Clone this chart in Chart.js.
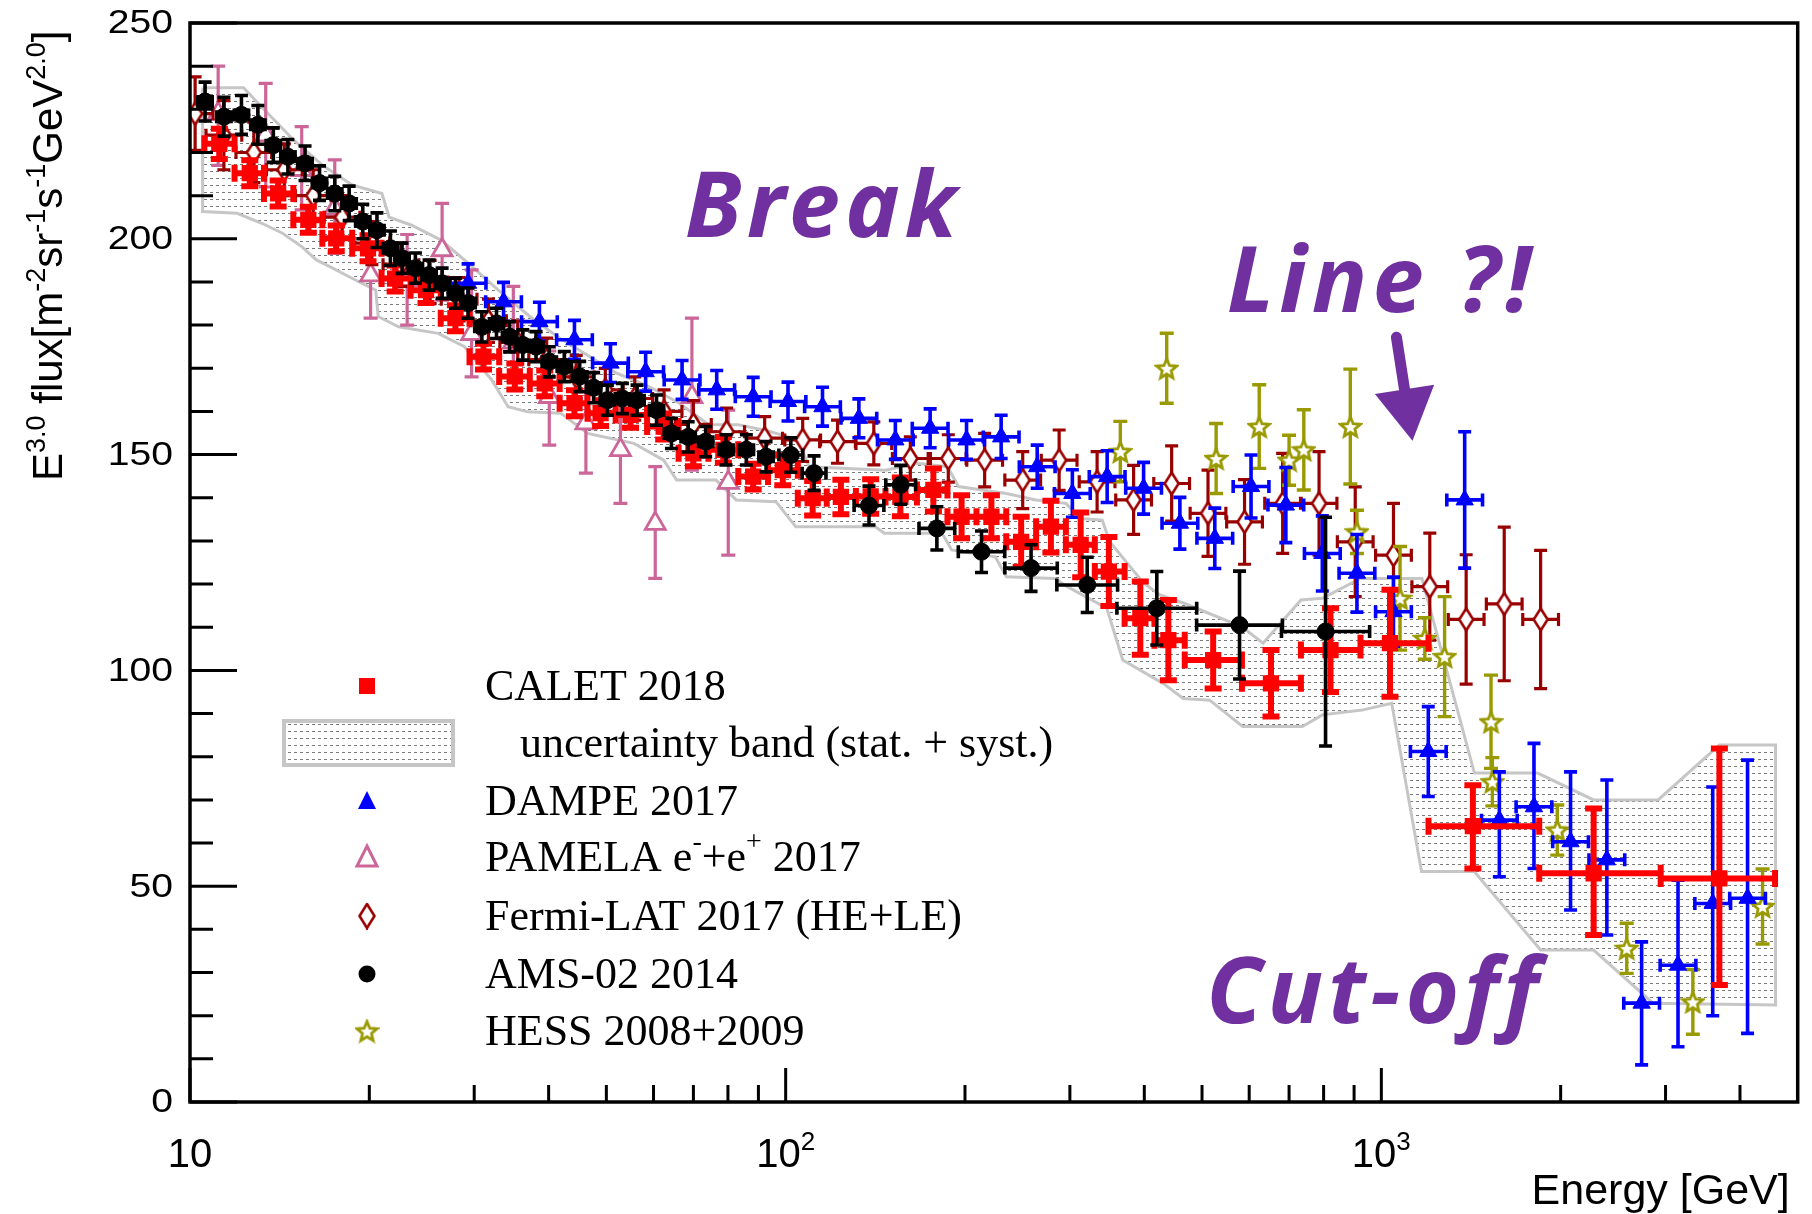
<!DOCTYPE html>
<html>
<head>
<meta charset="utf-8">
<script src="https://cdn.jsdelivr.net/npm/chart.js@4.4.1/dist/chart.umd.min.js"></script>
<style>
  html, body { margin: 0; background: #fff; }
  canvas { display: block; }
</style>
</head>
<body>
<canvas id="spectrum" width="1812" height="1214"></canvas>
<script>
// ---- axis ticks ----
const xMajorTicks = [10, 100, 1000];
const xMinorTicks = [20, 30, 40, 50, 60, 70, 80, 90, 200, 300, 400, 500, 600, 700, 800, 900, 2000, 3000, 4000];
const xTickLabels = [['10', ''], ['10', '2'], ['10', '3']];
const yMajorTicks = [0, 50, 100, 150, 200, 250];
const yMinorTicks = [10, 20, 30, 40, 60, 70, 80, 90, 110, 120, 130, 140, 160, 170, 180, 190, 210, 220, 230, 240];

// ---- CALET 2018 ----
const calE = [11.2, 12.6, 14.06, 15.8, 17.6, 19.9, 22.1, 24.9, 27.9, 31.1, 35.1, 39.4, 44.2, 48.9, 54.9, 62.4, 70.0, 78.6, 88.2, 98.9,
  111, 123.8, 138.9, 155.8, 177, 197.4, 221.5, 248.5, 278.8, 312.8, 348.8, 393.9, 439, 522, 652.7, 821.6, 1034, 1424.5, 2272, 3694];
const calFlux = [222, 215.2, 210.5, 204.4, 200.1, 197.8, 190.8, 188.1, 181.6, 172.7, 168.1, 166.5, 161.9, 159.6, 159.2, 156.5, 150.3, 151.1, 144.9, 146.4,
  139.9, 140.2, 140.3, 140.2, 141.8, 135.6, 135.6, 129.8, 133.3, 129.1, 122.9, 112.1, 107.0, 102.4, 97.0, 104.7, 106.3, 63.9, 53.0, 51.8];
const calErrLo = [3.5, 3, 3, 3, 3, 3, 3, 3, 3, 3, 3, 3, 3, 3, 3, 3, 3, 3, 3, 3.5,
  4, 4, 4, 4.5, 5, 5, 5, 5.8, 6, 7.5, 8, 8.5, 9.3, 6.6, 7.7, 9.7, 12.4, 9.8, 14.3, 24.7];
const calErrHi = [3.5, 3, 3, 3, 3, 3, 3, 3, 3, 3, 3, 3, 3, 3, 3, 3, 3, 3, 3, 3.5,
  4, 4, 4, 4.5, 5, 5, 5, 5.8, 6, 7.5, 8, 8.5, 9.3, 6.6, 7.7, 9.7, 12.4, 9.5, 15, 30.1];
const calEdges = [10.57, 11.88, 13.31, 14.91, 16.68, 18.72, 20.97, 23.46, 26.36, 29.46, 33.04, 37.19, 41.74, 46.49, 51.83, 58.53, 66.11, 74.18, 83.26, 93.41,
  104.8, 117.2, 131.2, 147.1, 166.1, 186.9, 209.1, 234.6, 263.3, 295.4, 330.4, 370.7, 415.9, 467.7, 583.4, 732.8, 922.6, 1200, 1841, 2944, 4581];

// CALET uncertainty band (stat. + syst.), upper and lower edges
const bandUpperE = [10.5, 12.3, 13.3, 14.9, 16.7, 18.7, 21.0, 21.6, 23.5, 26.4, 29.5, 33.0, 37.2, 41.7, 46.5, 51.8, 58.5, 66.1, 74.2, 83.3,
  93.4, 104.8, 109.5, 147.1, 166.1, 186.9, 195, 234.6, 263.3, 295.4, 313, 340, 350, 399, 425, 467.7, 583.4, 633, 732.8, 796,
  922.6, 1170, 1433, 1830, 2272, 2915, 3694, 4590];
const bandUpperV = [235, 235, 230, 223, 217, 212.5, 210.5, 205, 203.2, 199.7, 194, 188, 182, 177, 173, 169, 166, 162, 157, 156.9,
  155.5, 153.4, 147.2, 146.4, 148, 147.2, 142.6, 141, 139.5, 138.7, 135.2, 134.8, 129.8, 120.2, 117.5, 115.5, 110.1, 106.3, 116.3, 116.7,
  121.3, 121.3, 76.2, 76.2, 70, 70, 82.7, 82.7];
const bandLowerE = [10.5, 12.0, 13.2, 14.3, 15.4, 16.3, 17.2, 18.5, 20.5, 20.7, 22.4, 26.1, 28.9, 32.1, 34.2, 36.9, 41.9, 46.5, 55.6, 62.4,
  65.6, 76.4, 82.6, 96.3, 104, 141.5, 146.4, 183, 190, 224.8, 234.7, 283, 297, 346, 368, 430, 465, 515, 585, 737,
  796, 928, 1041, 1168, 1432, 1851, 2272, 2858, 4590];
const bandLowerV = [206.3, 205.9, 203.6, 201.3, 198.2, 195.1, 193.5, 191.2, 188.1, 182, 179.6, 178.1, 175.0, 167.3, 161.1, 159.9, 159.6, 154.9, 152.6, 148.7,
  144.1, 144.1, 139.5, 139.1, 133.3, 133.3, 131.8, 131.8, 127.9, 126.3, 121.7, 121.3, 119.4, 114.4, 102.4, 97.0, 93.5, 93.1, 87.0, 87.0,
  89.7, 90.8, 92.4, 53.4, 53.4, 35.2, 35.2, 22.9, 22.5];

// ---- DAMPE 2017 ----
const dampeE = [29.3, 33.6, 38.6, 44.2, 50.8, 58.2, 67.0, 76.6, 88.2, 100.9, 115.3, 132.7, 152.8, 174.8, 201.2, 230, 264.4, 302.9, 346.5, 398.9,
  459, 525.3, 604.3, 691.3, 796, 910, 1048, 1199, 1380, 1578, 1804, 2078, 2391, 2735, 3148, 3600, 4119];
const dampeFlux = [189.7, 185.4, 180.8, 176.6, 171.2, 169.2, 167.3, 165.0, 163.4, 162.3, 161.1, 158.4, 153.4, 156.1, 153.4, 154.1, 147.2, 141.0, 144.9, 142.2,
  134.1, 130.6, 142.6, 138.3, 127.1, 122.5, 113.6, 81.2, 139.5, 65.3, 68.4, 60.3, 56.1, 22.9, 31.7, 46.0, 47.2];
const dampeErrLo = [4.5, 4.5, 4.5, 4.5, 4.5, 4.5, 4.5, 4.5, 4.5, 4.5, 4.5, 4.5, 4.5, 4.5, 4.5, 5, 5, 5.5, 6, 6,
  6, 7, 7.3, 8.7, 8.7, 9, 8, 10.4, 15.8, 13.1, 14.3, 15.8, 17.4, 14.3, 18.9, 26, 31.3];
const dampeErrHi = [4.5, 4.5, 4.5, 4.5, 4.5, 4.5, 4.5, 4.5, 4.5, 4.5, 4.5, 4.5, 4.5, 4.5, 4.5, 5, 5, 5.5, 6, 6,
  6, 7, 7.3, 8.7, 8.7, 9, 8, 10.4, 15.8, 11.2, 14.7, 16.2, 18.5, 14.2, 19.7, 27, 32];
const dampeBinHalf = 0.03; // half bin width, decades

// ---- PAMELA e-+e+ 2017 ----
const pamE = [11.15, 13.4, 15.4, 17.5, 20.1, 23.15, 26.5, 29.7, 34.9, 40.1, 46.2, 52.8, 60.4, 69.6, 80.1];
const pamFlux = [229, 224, 216, 207, 191.6, 190.5, 197.4, 178, 176, 163.4, 157.3, 151.1, 134, 163.4, 143.5];
const pamErrLo = [12, 12, 9.3, 10.4, 10, 10.5, 11.6, 10, 9, 11.2, 11.6, 12.4, 12.7, 17, 16.8];
const pamErrHi = [11, 12, 10, 11.3, 6.6, 10.5, 10.8, 14.8, 13, 10.6, 9.7, 11.9, 13.2, 18.2, 16.8];

// ---- Fermi-LAT 2017 (HE+LE) ----
const fermiE = [10.2, 11.4, 12.8, 14.4, 16.1, 18.0, 20.2, 22.6, 25.3, 28.3, 31.7, 35.5, 39.7, 44.5, 49.8, 55.8, 62.5, 70.0, 79.6, 92.2,
  106.8, 122.2, 140.6, 161.9, 187.5, 215.8, 250, 287.8, 333.3, 383.8, 444.6, 511.7, 589.3, 682.8, 786, 904, 1048, 1206, 1388, 1608, 1851];
const fermiFlux = [229, 224, 220, 216, 210, 205, 199, 194, 190, 186, 181, 176, 172, 168, 165, 163, 160, 157, 155.3, 153.8,
  153.4, 153.0, 152.6, 149.1, 149.1, 148.7, 144.1, 148.7, 143.7, 139.5, 143.3, 136.4, 134.4, 138.7, 138.7, 129.8, 126.7, 119.4, 111.8, 115.4, 111.8];
const fermiErr = [8.5, 8, 7, 6, 6, 5, 5, 5, 5, 5, 5, 5, 5, 5, 5, 5, 5, 5.5, 5.5, 5,
  5, 5, 5, 5, 5.5, 6.2, 6.6, 7, 7, 8, 8.7, 10, 9.8, 11.6, 12, 12.7, 12, 12.4, 15, 17.8, 16];
const fermiBinHalf = 0.03;

// ---- AMS-02 2014 ----
const amsE = [10.6, 11.4, 12.2, 13.0, 13.8, 14.6, 15.6, 16.5, 17.5, 18.5, 19.5, 20.6, 21.7, 22.7, 23.9, 25.2, 26.5, 27.9, 29.3, 30.9,
  32.7, 34.4, 36.2, 38.1, 40.1, 42.5, 45.1, 47.6, 50.2, 53.2, 56.3, 60.7, 64.3, 68.6, 73.4, 79.4, 85.9, 92.7, 102, 111.6,
  138, 156, 179.4, 213.2, 258.2, 320.8, 419.8, 578, 806];
const amsFlux = [231.8, 228.3, 228.7, 226.4, 221.7, 219.0, 217.5, 212.9, 210.5, 208.2, 204.0, 202.0, 197.8, 195.5, 193.2, 191.6, 189.7, 187.4, 185.1, 179.6,
  180.4, 177.3, 175.4, 175.0, 171.5, 170.4, 168.1, 165.5, 162.6, 163.0, 162.6, 160.3, 154.9, 154.1, 153.0, 151.1, 151.1, 149.5, 149.9, 145.7,
  138.2, 143, 132.9, 127.5, 123.7, 119.8, 114.4, 110.5, 109.0];
const amsErr = [4.5, 4.5, 4.5, 4.5, 4, 4, 4, 4, 4, 4, 4, 4, 4, 3.5, 3.5, 3.5, 3.5, 3.5, 3.5, 3.5,
  3.5, 3.5, 3.5, 3.5, 3.5, 3.5, 3.5, 3.5, 3.5, 3.5, 3.5, 3.5, 3.5, 3.5, 3.5, 3.5, 3.5, 3.5, 4, 4,
  4.5, 4.5, 5, 4.8, 5.4, 6.4, 8.5, 12.5, 26.5];
const amsBinHalf = [0.012, 0.012, 0.012, 0.012, 0.012, 0.012, 0.012, 0.012, 0.012, 0.012, 0.012, 0.012, 0.012, 0.012, 0.012, 0.012, 0.012, 0.012, 0.012, 0.012,
  0.012, 0.012, 0.012, 0.012, 0.012, 0.012, 0.012, 0.012, 0.012, 0.012, 0.012, 0.012, 0.012, 0.012, 0.012, 0.012, 0.012, 0.012, 0.02, 0.02,
  0.025, 0.025, 0.03, 0.039, 0.044, 0.051, 0.067, 0.072, 0.074];

// ---- HESS 2008+2009 ----
const hessE = [364.6, 436.2, 528, 623.7, 700, 741, 887, 910, 1075, 1183, 1277, 1528, 1536, 1974, 2582, 3334, 4365];
const hessFlux = [150.7, 170.0, 149.1, 156.5, 148.7, 151.1, 156.5, 132.1, 116.7, 107.4, 103.2, 88.1, 74.2, 63.0, 35.6, 23.2, 45.3];
const hessErr = [7, 8.1, 8.1, 9.7, 5.8, 9.3, 13.3, 5, 12, 4.8, 13.9, 10.8, 5.6, 5.8, 5.8, 7.5, 8.7];

// hand-written notes, anchored in data coordinates (energy, flux)
const notes = [
  { text: 'Break', e: 67.7, f: 200.4 },
  { text: 'Line ?!', e: 550, f: 183 },
  { text: 'Cut-off', e: 508, f: 18.3 }
];
const arrowFrom = { e: 1060, f: 177.2 };
const arrowTo = { e: 1128, f: 153.2 };

const COLORS = {
  calet: '#ff0000', dampe: '#0000ff', pamela: '#cc6699',
  fermi: '#990000', ams: '#000000', hess: '#999900', note: '#7030a0'
};

const canvas = document.getElementById('spectrum');
const ctx0 = canvas.getContext('2d');

const pts = (xs, ys) => xs.map((x, i) => ({ x, y: ys[i] }));
const widen = (xs, half, sign) => xs.map((x, i) => x * Math.pow(10, sign * (Array.isArray(half) ? half[i] : half)));

function markerCanvas(w, h, paint) {
  const c = document.createElement('canvas');
  c.width = w; c.height = h;
  paint(c.getContext('2d'), w, h);
  return c;
}

// narrow open diamond (Fermi)
function diamondMarker(w, h) {
  return markerCanvas(w, h, (g) => {
    g.strokeStyle = COLORS.fermi; g.lineWidth = 2.6; g.fillStyle = '#fff';
    g.beginPath();
    g.moveTo(w / 2, 1.5); g.lineTo(w - 1.5, h / 2); g.lineTo(w / 2, h - 1.5); g.lineTo(1.5, h / 2);
    g.closePath(); g.fill(); g.stroke();
  });
}

// open five-point star (HESS)
function starMarker(size) {
  return markerCanvas(size, size, (g) => {
    const c = size / 2, ro = size / 2 - 2, ri = ro * 0.45;
    g.strokeStyle = COLORS.hess; g.lineWidth = 2.8; g.fillStyle = '#fff';
    g.beginPath();
    for (let k = 0; k < 10; k++) {
      const r = k % 2 ? ri : ro;
      const a = -Math.PI / 2 + k * Math.PI / 5;
      const px = c + r * Math.cos(a), py = c + 1 + r * Math.sin(a);
      k ? g.lineTo(px, py) : g.moveTo(px, py);
    }
    g.closePath(); g.fill(); g.stroke();
  });
}

const fermiMark = diamondMarker(17, 25);
const hessMark = starMarker(25);
const fermiLegendMark = diamondMarker(18, 27);
const hessLegendMark = starMarker(25);

// dotted hatch used by the uncertainty band
const hatchTile = markerCanvas(6, 7, (g) => {
  g.fillStyle = '#fff'; g.fillRect(0, 0, 6, 7);
  g.fillStyle = '#7a7a7a'; g.fillRect(0, 3, 3, 1);
});
const hatch = ctx0.createPattern(hatchTile, 'repeat');

const bandPolygon = pts(bandUpperE, bandUpperV)
  .concat(pts(bandLowerE, bandLowerV).reverse());
bandPolygon.push(bandPolygon[0]);

const datasets = [
  {
    label: 'band', data: bandPolygon, showLine: true, fill: 'shape',
    backgroundColor: hatch, borderColor: '#c6c6c6', borderWidth: 3,
    pointRadius: 0, tension: 0, order: 10
  },
  {
    label: 'PAMELA', data: pts(pamE, pamFlux), order: 7,
    pointStyle: 'triangle', pointRadius: 11.5, pointBackgroundColor: '#fff',
    pointBorderColor: COLORS.pamela, pointBorderWidth: 2.8,
    errorBars: { color: COLORS.pamela, width: 3.2, cap: 7, lo: pamErrLo, hi: pamErrHi }
  },
  {
    label: 'Fermi', data: pts(fermiE, fermiFlux), order: 6,
    pointStyle: fermiMark, pointRadius: 8,
    errorBars: {
      color: COLORS.fermi, width: 3.2, cap: 6.5, lo: fermiErr, hi: fermiErr,
      left: widen(fermiE, fermiBinHalf, -1), right: widen(fermiE, fermiBinHalf, 1)
    }
  },
  {
    label: 'HESS', data: pts(hessE, hessFlux), order: 5,
    pointStyle: hessMark, pointRadius: 8,
    errorBars: { color: COLORS.hess, width: 3.4, cap: 7, lo: hessErr, hi: hessErr }
  },
  {
    label: 'DAMPE', data: pts(dampeE, dampeFlux), order: 4,
    pointStyle: 'triangle', pointRadius: 10, pointBackgroundColor: COLORS.dampe,
    pointBorderColor: COLORS.dampe, pointBorderWidth: 1,
    errorBars: {
      color: COLORS.dampe, width: 3.6, cap: 6.5, lo: dampeErrLo, hi: dampeErrHi,
      left: widen(dampeE, dampeBinHalf, -1), right: widen(dampeE, dampeBinHalf, 1)
    }
  },
  {
    label: 'CALET', data: pts(calE, calFlux), order: 3,
    pointStyle: 'rect', pointRadius: 11.5, pointBackgroundColor: COLORS.calet,
    pointBorderColor: COLORS.calet, pointBorderWidth: 0,
    errorBars: {
      color: COLORS.calet, width: 6, cap: 8.5, lo: calErrLo, hi: calErrHi,
      left: calEdges.slice(0, -1), right: calEdges.slice(1)
    }
  },
  {
    label: 'AMS', data: pts(amsE, amsFlux), order: 2,
    pointStyle: 'circle', pointRadius: 8.5, pointBackgroundColor: COLORS.ams,
    pointBorderColor: COLORS.ams, pointBorderWidth: 1,
    errorBars: {
      color: COLORS.ams, width: 3.6, cap: 6.5, lo: amsErr, hi: amsErr,
      left: widen(amsE, amsBinHalf, -1), right: widen(amsE, amsBinHalf, 1)
    }
  }
];

// error bars with end caps, drawn just under each series' markers
const errorBars = {
  id: 'errorBars',
  beforeDatasetDraw(chart, args) {
    const ds = chart.data.datasets[args.index];
    const eb = ds.errorBars;
    if (!eb) return;
    const { ctx, chartArea: a, scales: { x, y } } = chart;
    ctx.save();
    ctx.beginPath();
    ctx.rect(a.left, a.top, a.right - a.left, a.bottom - a.top);
    ctx.clip();
    ctx.strokeStyle = eb.color;
    ctx.lineWidth = eb.width;
    ctx.beginPath();
    ds.data.forEach((p, i) => {
      const px = x.getPixelForValue(p.x);
      const py = y.getPixelForValue(p.y);
      const c = eb.cap;
      const y0 = y.getPixelForValue(p.y - eb.lo[i]);
      const y1 = y.getPixelForValue(p.y + eb.hi[i]);
      ctx.moveTo(px, y0); ctx.lineTo(px, y1);
      ctx.moveTo(px - c, y0); ctx.lineTo(px + c, y0);
      ctx.moveTo(px - c, y1); ctx.lineTo(px + c, y1);
      if (eb.left) {
        const x0 = x.getPixelForValue(eb.left[i]);
        const x1 = x.getPixelForValue(eb.right[i]);
        ctx.moveTo(x0, py); ctx.lineTo(x1, py);
        ctx.moveTo(x0, py - c); ctx.lineTo(x0, py + c);
        ctx.moveTo(x1, py - c); ctx.lineTo(x1, py + c);
      }
    });
    ctx.stroke();
    ctx.restore();
  }
};

// text made of plain and superscript pieces, left to right
function richText(ctx, parts, x, y, family, size, supSize, rise) {
  let cx = x;
  for (const [t, sup] of parts) {
    ctx.font = `${sup ? supSize : size}px ${family}`;
    ctx.fillText(t, cx, sup ? y - rise : y);
    cx += ctx.measureText(t).width;
  }
  return cx;
}
function richWidth(ctx, parts, family, size, supSize) {
  let w = 0;
  for (const [t, sup] of parts) {
    ctx.font = `${sup ? supSize : size}px ${family}`;
    w += ctx.measureText(t).width;
  }
  return w;
}

const SANS = '"Liberation Sans", Arial, sans-serif';
const SERIF = '"Liberation Serif", "Times New Roman", serif';

const yTitle = [['E', 0], ['3.0', 1], [' flux[m', 0], ['-2', 1], ['sr', 0], ['-1', 1], ['s', 0], ['-1', 1], ['GeV', 0], ['2.0', 1], [']', 0]];

const legendRows = [
  { kind: 'calet', y: 686, parts: [['CALET 2018', 0]] },
  { kind: 'band', y: 743, parts: [['uncertainty band (stat. + syst.)', 0]] },
  { kind: 'dampe', y: 801, parts: [['DAMPE 2017', 0]] },
  { kind: 'pamela', y: 857, parts: [['PAMELA e', 0], ['-', 1], ['+e', 0], ['+', 1], [' 2017', 0]] },
  { kind: 'fermi', y: 916, parts: [['Fermi-LAT 2017 (HE+LE)', 0]] },
  { kind: 'ams', y: 974, parts: [['AMS-02 2014', 0]] },
  { kind: 'hess', y: 1031, parts: [['HESS 2008+2009', 0]] }
];

function legendMarker(ctx, kind, cx, cy) {
  ctx.save();
  switch (kind) {
    case 'calet':
      ctx.fillStyle = COLORS.calet; ctx.fillRect(cx - 8, cy - 8, 16, 16); break;
    case 'band':
      ctx.fillStyle = hatch; ctx.fillRect(284, cy - 22, 169, 44);
      ctx.strokeStyle = '#c6c6c6'; ctx.lineWidth = 4; ctx.strokeRect(284, cy - 22, 169, 44); break;
    case 'dampe':
      ctx.fillStyle = COLORS.dampe; ctx.beginPath();
      ctx.moveTo(cx, cy - 10); ctx.lineTo(cx + 9, cy + 8); ctx.lineTo(cx - 9, cy + 8); ctx.closePath(); ctx.fill(); break;
    case 'pamela':
      ctx.strokeStyle = COLORS.pamela; ctx.lineWidth = 3; ctx.beginPath();
      ctx.moveTo(cx, cy - 11); ctx.lineTo(cx + 10, cy + 9); ctx.lineTo(cx - 10, cy + 9); ctx.closePath(); ctx.stroke(); break;
    case 'fermi':
      ctx.drawImage(fermiLegendMark, cx - fermiLegendMark.width / 2, cy - fermiLegendMark.height / 2); break;
    case 'ams':
      ctx.fillStyle = COLORS.ams; ctx.beginPath(); ctx.arc(cx, cy, 8.5, 0, Math.PI * 2); ctx.fill(); break;
    case 'hess':
      ctx.drawImage(hessLegendMark, cx - hessLegendMark.width / 2, cy - hessLegendMark.height / 2); break;
  }
  ctx.restore();
}

const rootFrame = {
  id: 'rootFrame',
  beforeDraw(chart) {
    const { ctx, width, height } = chart;
    ctx.save(); ctx.fillStyle = '#fff'; ctx.fillRect(0, 0, width, height); ctx.restore();
  },
  afterDraw(chart) {
    const { ctx, chartArea: a, scales: { x, y } } = chart;
    ctx.save();
    ctx.strokeStyle = '#000';
    ctx.fillStyle = '#000';

    // inward ticks
    ctx.lineWidth = 3;
    ctx.beginPath();
    yMajorTicks.forEach(v => { const p = y.getPixelForValue(v); ctx.moveTo(a.left, p); ctx.lineTo(a.left + 47, p); });
    yMinorTicks.forEach(v => { const p = y.getPixelForValue(v); ctx.moveTo(a.left, p); ctx.lineTo(a.left + 23, p); });
    xMajorTicks.forEach(v => { const p = x.getPixelForValue(v); ctx.moveTo(p, a.bottom); ctx.lineTo(p, a.bottom - 34); });
    xMinorTicks.forEach(v => { const p = x.getPixelForValue(v); ctx.moveTo(p, a.bottom); ctx.lineTo(p, a.bottom - 17); });
    ctx.stroke();

    // frame
    ctx.lineWidth = 3.5;
    ctx.strokeRect(a.left, a.top, a.right - a.left, a.bottom - a.top);

    // y tick labels
    ctx.font = `34px ${SANS}`;
    ctx.textAlign = 'right';
    ctx.textBaseline = 'middle';
    yMajorTicks.forEach(v => {
      ctx.save();
      ctx.translate(a.left - 17, y.getPixelForValue(v) + 1);
      ctx.scale(1.15, 1);
      ctx.fillText(String(v), 0, 0);
      ctx.restore();
    });

    // x tick labels
    ctx.textAlign = 'left';
    ctx.textBaseline = 'alphabetic';
    xMajorTicks.forEach((v, i) => {
      const parts = [[xTickLabels[i][0], 0], [xTickLabels[i][1], 1]];
      const w = richWidth(ctx, parts, SANS, 40, 26);
      richText(ctx, parts, x.getPixelForValue(v) - w / 2, 1167, SANS, 40, 26, 17);
    });

    // axis titles
    ctx.font = `43px ${SANS}`;
    ctx.textAlign = 'right';
    ctx.fillText('Energy [GeV]', a.right - 8, 1204);
    ctx.textAlign = 'left';
    ctx.save();
    ctx.translate(62, 481);
    ctx.rotate(-Math.PI / 2);
    richText(ctx, yTitle, 0, 0, SANS, 42, 27, 17);
    ctx.restore();

    // legend
    ctx.textBaseline = 'middle';
    legendRows.forEach(r => {
      legendMarker(ctx, r.kind, 367, r.y);
      ctx.fillStyle = '#000';
      richText(ctx, r.parts, r.kind === 'band' ? 520 : 485, r.y + 2, SERIF, 44, 28, 16);
    });

    // notes and arrow
    ctx.fillStyle = COLORS.note;
    ctx.textBaseline = 'alphabetic';
    ctx.textAlign = 'left';
    ctx.font = `italic bold 92px "Noto Sans", ${SANS}`;
    ctx.letterSpacing = '5px';
    notes.forEach(n => ctx.fillText(n.text, x.getPixelForValue(n.e), y.getPixelForValue(n.f)));
    ctx.letterSpacing = '0px';

    const sx = x.getPixelForValue(arrowFrom.e), sy = y.getPixelForValue(arrowFrom.f);
    const tx = x.getPixelForValue(arrowTo.e), ty = y.getPixelForValue(arrowTo.f);
    const len = Math.hypot(tx - sx, ty - sy);
    const ux = (tx - sx) / len, uy = (ty - sy) / len;
    const headLen = 52, headHalf = 30;
    const bx = tx - ux * headLen, by = ty - uy * headLen;
    ctx.strokeStyle = COLORS.note;
    ctx.lineWidth = 11;
    ctx.lineCap = 'round';
    ctx.beginPath(); ctx.moveTo(sx, sy); ctx.lineTo(bx, by); ctx.stroke();
    ctx.beginPath();
    ctx.moveTo(tx, ty);
    ctx.lineTo(bx - uy * headHalf, by + ux * headHalf);
    ctx.lineTo(bx + uy * headHalf, by - ux * headHalf);
    ctx.closePath(); ctx.fill();

    ctx.restore();
  }
};

new Chart(canvas, {
  type: 'scatter',
  data: { datasets },
  options: {
    responsive: false,
    animation: false,
    layout: { padding: { top: 23, right: 7, left: 0, bottom: 0 } },
    plugins: { legend: { display: false }, tooltip: { enabled: false } },
    scales: {
      x: {
        type: 'logarithmic', min: 10, max: 5000,
        ticks: { display: false }, grid: { display: false }, border: { display: false },
        afterFit: (s) => { s.height = 112; }
      },
      y: {
        type: 'linear', min: 0, max: 250,
        ticks: { display: false }, grid: { display: false }, border: { display: false },
        afterFit: (s) => { s.width = 190; }
      }
    }
  },
  plugins: [errorBars, rootFrame]
});
</script>
</body>
</html>
